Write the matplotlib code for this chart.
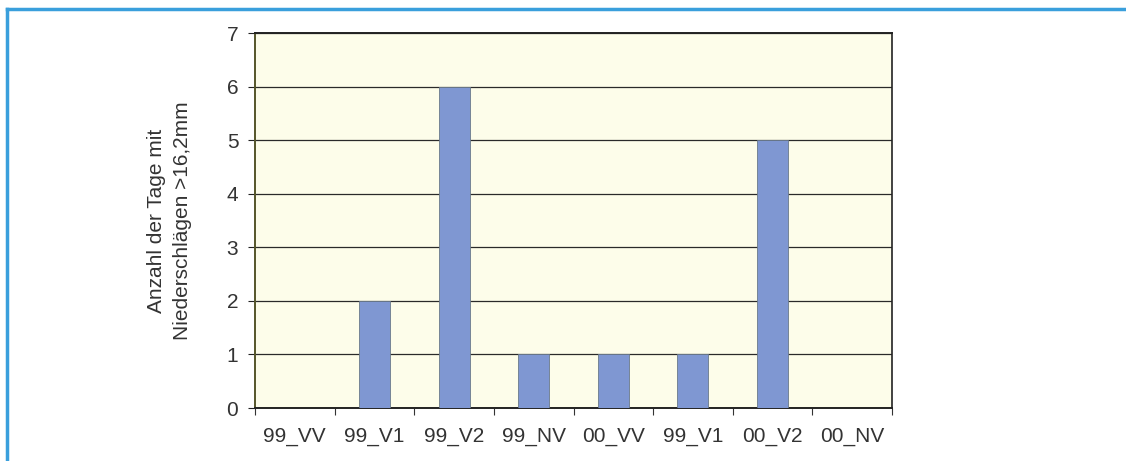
import numpy as np
import matplotlib.pyplot as plt
from matplotlib.lines import Line2D

# Anzahl der Tage mit Niederschlägen > 16,2 mm je Periode
kategorien = ['99_VV', '99_V1', '99_V2', '99_NV', '00_VV', '99_V1', '00_V2', '00_NV']
tage = [0, 2, 6, 1, 1, 1, 5, 0]

plt.rcParams['font.family'] = ['Liberation Sans', 'DejaVu Sans']

fig = plt.figure(figsize=(11.26, 4.61), dpi=100)
fig.patch.set_facecolor('white')

# blauer Rahmen (links und oben)
blau = '#3a9fdc'
fig.add_artist(Line2D([7 / 1126, 7 / 1126], [0, 1 - 9 / 461], color=blau, lw=2.5))
fig.add_artist(Line2D([7 / 1126, 1], [1 - 9 / 461, 1 - 9 / 461], color=blau, lw=2.5))

ax = fig.add_axes([255 / 1126, 1 - 408 / 461, (892 - 255) / 1126, (408 - 33) / 461])
ax.set_facecolor('#fdfdea')

x = np.arange(len(kategorien))
ax.bar(x, tage, width=0.39, color='#7f97d2', edgecolor='#6a7a8a', linewidth=0.6, zorder=3)

ax.set_xlim(-0.5, len(kategorien) - 0.5)
ax.set_ylim(0, 7)
ax.set_yticks(range(0, 8))
ax.yaxis.grid(True, color='#2a2a2a', linewidth=0.9, zorder=1)
ax.set_axisbelow(True)

# Teilstriche zwischen den Kategorien, Beschriftung mittig
ax.set_xticks(np.arange(-0.5, len(kategorien), 1.0))
ax.set_xticklabels([])
ax.set_xticks(x, minor=True)
ax.set_xticklabels(kategorien, minor=True)
ax.tick_params(axis='x', which='major', length=5, direction='out', color='#333333')
ax.tick_params(axis='x', which='minor', length=0, pad=14, labelsize=15, labelcolor='#333333')
ax.tick_params(axis='y', length=5, direction='out', color='#222222', pad=7,
               labelsize=15, labelcolor='#333333')

ax.spines['left'].set_color('#55552a')
ax.spines['left'].set_linewidth(1.4)
ax.spines['bottom'].set_color('#222222')
ax.spines['bottom'].set_linewidth(1.4)
ax.spines['top'].set_color('#222222')
ax.spines['top'].set_linewidth(1.4)
ax.spines['right'].set_color('#222222')
ax.spines['right'].set_linewidth(1.2)

ax.set_ylabel('Anzahl der Tage mit\nNiederschlägen >16,2mm', fontsize=15,
              color='#333333', labelpad=25, linespacing=1.45)

fig.savefig('out.png', dpi=100)
